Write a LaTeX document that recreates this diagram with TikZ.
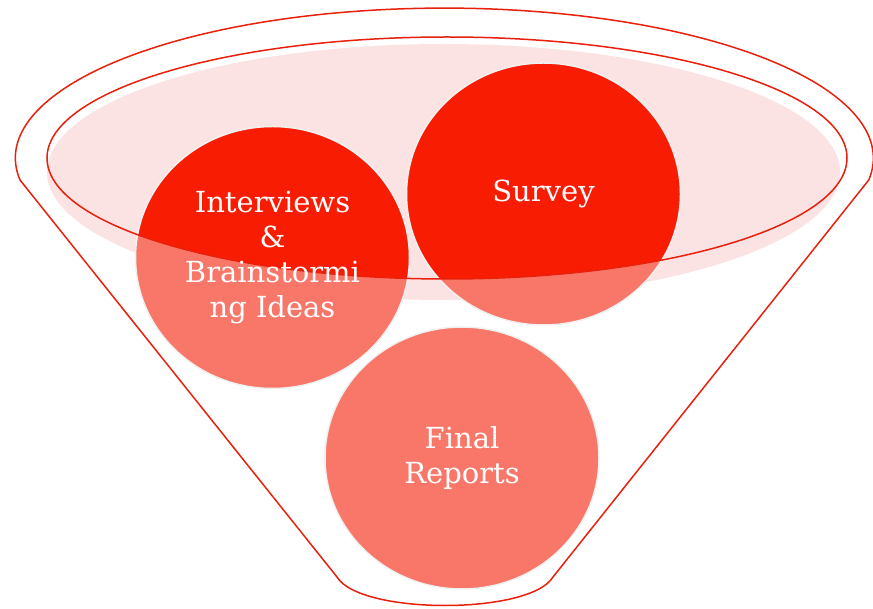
\documentclass[tikz,border=0pt]{standalone}
\usepackage{fontspec}
\setmainfont{DejaVu Serif}
\usetikzlibrary{shapes.geometric}
\definecolor{funnelred}{RGB}{232,32,12}
\definecolor{toppink}{RGB}{251,227,227}
\definecolor{salmon}{RGB}{249,119,105}
\definecolor{hotred}{RGB}{247,28,2}
\tikzstyle{bubble}=[ellipse,fill=salmon,draw=black!6,line width=1.5pt,minimum width=274pt,minimum height=262pt,inner sep=0pt]
\tikzstyle{caption}=[text=white,align=center,inner sep=0pt,font=\fontsize{29}{35}\selectfont]
\tikzstyle{rim}=[draw=funnelred,line width=1.5pt]

\begin{document}
\begin{tikzpicture}[x=1pt,y=1pt]
  \useasboundingbox (0,0) rectangle (873,-609);

  % pink mouth of the funnel
  \fill[toppink] (443.5,-172) ellipse [x radius=396.5, y radius=128];

  \foreach \name/\x/\y in {int/272.5/257.5, sur/543.5/194, fin/462/458}
    \node[bubble] (B-\name) at (\x,-\y) {};

  % brighter part inside the rim
  \begin{scope}
    \clip (447,-158) ellipse [x radius=400, y radius=121];
    \foreach \name in {int,sur,fin}
      \fill[hotred] (B-\name.center) ellipse [x radius=136, y radius=130];
  \end{scope}
  \draw[rim] (447,-158) ellipse [x radius=400, y radius=121];

  % funnel outline
  \draw[rim] (20,-180) arc[start angle=188.4, end angle=-8.4, x radius=429, y radius=150]
    -- (553,-577) .. controls (530,-615) and (360,-615) .. (337,-577) -- cycle;

  \node[caption] (T-int) at (B-int) {Interviews\\\&\\Brainstormi\\ng Ideas};
  \node[caption] (T-sur) at (B-sur) {Survey};
  \node[caption] (T-fin) at (B-fin) {Final\\Reports};

\end{tikzpicture}
\end{document}
